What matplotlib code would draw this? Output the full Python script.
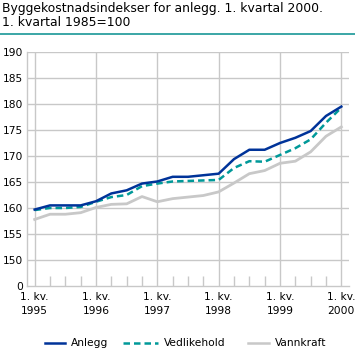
import matplotlib
matplotlib.use("Agg")
import matplotlib.pyplot as plt
from matplotlib.lines import Line2D
import numpy as np

quarters = list(range(21))  # 1995Q1 .. 2000Q1
year_labels = ["1. kv.\n1995", "1. kv.\n1996", "1. kv.\n1997", "1. kv.\n1998", "1. kv.\n1999", "1. kv.\n2000"]
ytick_values = [150, 155, 160, 165, 170, 175, 180, 185, 190]

anlegg = [159.7, 160.5, 160.5, 160.5, 161.3, 162.8, 163.4, 164.7, 165.1, 166.0,
          166.0, 166.3, 166.6, 169.4, 171.2, 171.2, 172.5, 173.5, 174.8, 177.7, 179.5]
vedlikehold = [159.6, 160.0, 160.0, 160.2, 161.2, 162.1, 162.5, 164.2, 164.7, 165.1,
               165.2, 165.3, 165.4, 167.7, 169.0, 168.9, 170.2, 171.5, 173.2, 176.4, 179.3]
vannkraft = [157.8, 158.8, 158.8, 159.1, 160.1, 160.7, 160.8, 162.2, 161.2, 161.8,
             162.1, 162.4, 163.1, 164.8, 166.6, 167.2, 168.6, 169.0, 170.8, 173.8, 175.6]

W, H = 355, 361
fig = plt.figure(figsize=(W / 100, H / 100), dpi=100)
plt.rcParams['font.family'] = ['DejaVu Sans']

grid_c = '#c8c8c8'
fs = 7.7
ax = fig.add_axes([27 / W, 1 - 286 / H, (349 - 27) / W, (286 - 52) / H])
ax.set_xlim(-0.5, 20.5)
ax.set_ylim(145, 190)

ax.plot(quarters, vannkraft, color='#c8c8c8', lw=2.0, zorder=3)
ax.plot(quarters, vedlikehold, color='#009999', lw=1.8, dashes=(2.6, 1.6), zorder=4)
ax.plot(quarters, anlegg, color='#003399', lw=1.8, zorder=5)

# y axis (broken: 0 shown at bottom)
ax.set_yticks([145] + ytick_values)
ax.set_yticklabels(['0'] + [str(v) for v in ytick_values])
for v in ytick_values:
    ax.axhline(v, color=grid_c, lw=1.0, zorder=1)
ax.tick_params(axis='y', length=0, pad=3, labelsize=fs)

ax.set_xticks(quarters[::4])
ax.set_xticklabels(year_labels, linespacing=1.5)
ax.set_xticks(quarters, minor=True)
for q in quarters[::4]:
    ax.axvline(q, color=grid_c, lw=1.0, zorder=1)
ax.tick_params(axis='x', which='major', length=0, pad=4, labelsize=fs)
ax.tick_params(axis='x', which='minor', direction='in', length=7.5, width=1.0, color=grid_c)

for s in ['top', 'right']:
    ax.spines[s].set_visible(False)
for s in ['left', 'bottom']:
    ax.spines[s].set_color(grid_c)
    ax.spines[s].set_linewidth(1.0)

# Title
fig.text(2 / W, 1 - 2 / H, "Byggekostnadsindekser for anlegg. 1. kvartal 2000.\n1. kvartal 1985=100",
         ha='left', va='top', fontsize=8.9, linespacing=1.15)
fig.add_artist(Line2D([0, 1], [1 - 33.5 / H, 1 - 33.5 / H], color='#199797', lw=1.2))

# Legend
ly = 1 - 343 / H
fig.add_artist(Line2D([45 / W, 65 / W], [ly, ly], color='#003399', lw=1.8))
fig.text(71 / W, ly, "Anlegg", ha='left', va='center', fontsize=fs)
fig.add_artist(Line2D([123 / W, 158 / W], [ly, ly], color='#009999', lw=1.8, dashes=(2.6, 1.6)))
fig.text(164 / W, ly, "Vedlikehold", ha='left', va='center', fontsize=fs)
fig.add_artist(Line2D([248 / W, 269 / W], [ly, ly], color='#c8c8c8', lw=1.8))
fig.text(275 / W, ly, "Vannkraft", ha='left', va='center', fontsize=fs)

fig.savefig("out.png", dpi=100)
